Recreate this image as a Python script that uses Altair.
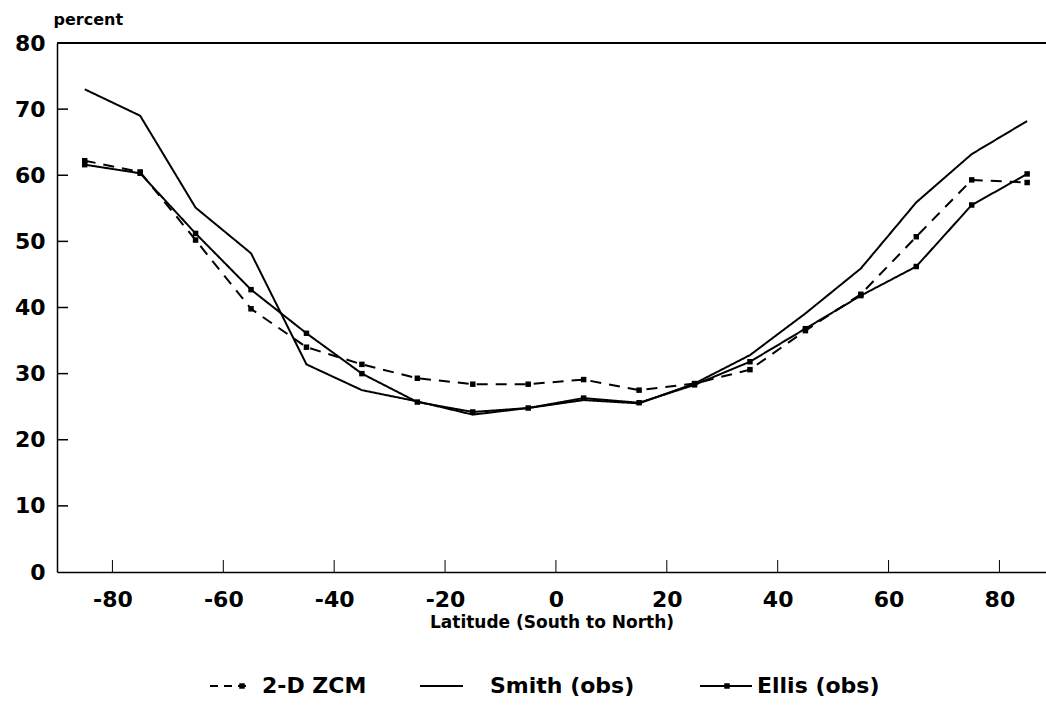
import altair as alt
import pandas as pd

# Latitude band centres (degrees, south to north)
latitude = [-85, -75, -65, -55, -45, -35, -25, -15, -5, 5, 15, 25, 35, 45, 55, 65, 75, 85]

# Zonal-mean cloud cover, percent
zcm_2d = [62.2, 60.5, 50.2, 39.8, 34.0, 31.4, 29.3, 28.4, 28.4, 29.1, 27.5, 28.5, 30.6, 36.5, 42.0, 50.7, 59.3, 58.9]
smith_obs = [73.0, 69.0, 55.1, 48.2, 31.4, 27.5, 25.8, 23.8, 24.8, 26.0, 25.5, 28.5, 32.8, 39.1, 45.9, 55.9, 63.2, 68.2]
ellis_obs = [61.6, 60.3, 51.2, 42.7, 36.1, 30.0, 25.7, 24.2, 24.8, 26.3, 25.6, 28.3, 31.8, 36.8, 41.8, 46.2, 55.5, 60.2]

x_ticks = [-80, -60, -40, -20, 0, 20, 40, 60, 80]
y_ticks = [0, 10, 20, 30, 40, 50, 60, 70, 80]

series_names = ["2-D ZCM", "Smith (obs)", "Ellis (obs)"]

rows = []
for name, vals in zip(series_names, [zcm_2d, smith_obs, ellis_obs]):
    for lat, v in zip(latitude, vals):
        rows.append({"lat": lat, "pct": v, "series": name})
df = pd.DataFrame(rows)

FONT = "DejaVu Sans"
W, H = 989, 529

xs = alt.Scale(domain=[-90, 88.4], nice=False, zero=False)
ys = alt.Scale(domain=[0, 80], nice=False, zero=True)

x_enc = alt.X(
    "lat:Q", scale=xs,
    axis=alt.Axis(
        values=x_ticks, tickSize=0, grid=False, labelExpr="'' + datum.value",
        labelFontSize=22, labelFontWeight="bold", labelPadding=17, labelColor="black",
        title="Latitude (South to North)", titleFontSize=17, titleFontWeight="bold",
        titlePadding=4, titleColor="black", domainColor="black", domainWidth=1.5,
    ),
)
y_enc = alt.Y(
    "pct:Q", scale=ys,
    axis=alt.Axis(
        values=y_ticks, tickSize=0, grid=False,
        labelFontSize=22, labelFontWeight="bold", labelPadding=12, labelColor="black",
        title="percent", titleAngle=0, titleAlign="left", titleBaseline="alphabetic",
        titleX=-4, titleY=-19, titleFontSize=16, titleFontWeight="bold", titleColor="black",
        domainColor="black", domainWidth=1.5,
    ),
)

base = alt.Chart(df)

lines = base.mark_line(color="black", strokeWidth=2).encode(
    x=x_enc, y=y_enc,
    strokeDash=alt.StrokeDash(
        "series:N",
        scale=alt.Scale(domain=series_names, range=[[11, 8], [1, 0], [1, 0]]),
        legend=None,
    ),
    detail="series:N",
)

points = base.transform_filter(
    alt.FieldOneOfPredicate(field="series", oneOf=["2-D ZCM", "Ellis (obs)"])
).mark_point(shape="square", filled=True, color="black", size=30, opacity=1).encode(
    x=alt.X("lat:Q", scale=xs), y=alt.Y("pct:Q", scale=ys)
)

# inward-pointing tick marks
xt = alt.Chart(pd.DataFrame({"t": x_ticks})).mark_rule(color="black", strokeWidth=1).encode(
    x=alt.X("t:Q", scale=xs), y=alt.value(H), y2=alt.value(H - 12)
)
yt = alt.Chart(pd.DataFrame({"t": y_ticks[1:]})).mark_rule(color="black", strokeWidth=1.5).encode(
    y=alt.Y("t:Q", scale=ys), x=alt.value(0), x2=alt.value(11)
)
top = alt.Chart(pd.DataFrame({"t": [80]})).mark_rule(color="black", strokeWidth=2).encode(
    y=alt.Y("t:Q", scale=ys), x=alt.value(0), x2=alt.value(W)
)

# legend drawn below the axis title
one = pd.DataFrame({"a": [0]})
LY = 643
leg_zcm = alt.Chart(one).mark_rule(color="black", strokeWidth=2, strokeDash=[8, 6]).encode(
    x=alt.value(153), x2=alt.value(195), y=alt.value(LY)
)
leg_zcm_pt = alt.Chart(one).mark_point(shape="square", filled=True, color="black", size=30, opacity=1).encode(
    x=alt.value(185), y=alt.value(LY)
)
leg_smith = alt.Chart(one).mark_rule(color="black", strokeWidth=2).encode(
    x=alt.value(363), x2=alt.value(406), y=alt.value(LY)
)
leg_ellis = alt.Chart(one).mark_rule(color="black", strokeWidth=2).encode(
    x=alt.value(643), x2=alt.value(695), y=alt.value(LY)
)
leg_ellis_pt = alt.Chart(one).mark_point(shape="square", filled=True, color="black", size=30, opacity=1).encode(
    x=alt.value(670), y=alt.value(LY)
)

def leg_text(label, x):
    return alt.Chart(one).mark_text(
        text=label, align="left", baseline="middle", font=FONT,
        fontSize=22, fontWeight="bold", color="black",
    ).encode(x=alt.value(x), y=alt.value(LY))

legend = (leg_zcm + leg_zcm_pt + leg_smith + leg_ellis + leg_ellis_pt
          + leg_text("2-D ZCM", 205) + leg_text("Smith (obs)", 433) + leg_text("Ellis (obs)", 700))

chart = alt.layer(lines, points, xt, yt, top, legend).properties(
    width=W, height=H,
    padding={"left": 57, "top": 43, "right": 0, "bottom": 148},
    autosize=alt.AutoSizeParams(type="none"),
).configure(font=FONT).configure_view(stroke=None).configure_axis(labelFont=FONT, titleFont=FONT)

chart.save("out.html", embed_options={"renderer": "svg", "actions": False})
